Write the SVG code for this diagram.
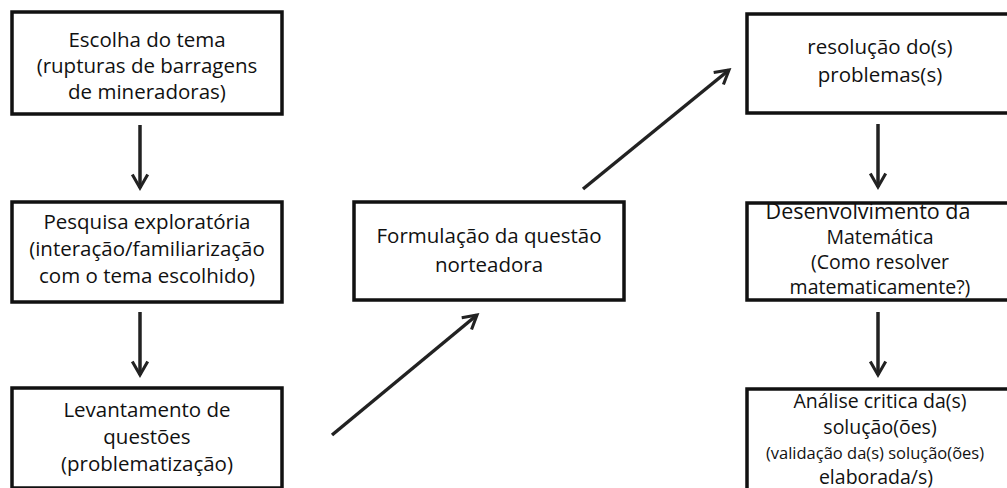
<svg xmlns="http://www.w3.org/2000/svg" width="1007" height="488" viewBox="0 0 1007 488">
<style>
.box{fill:#fff;stroke:#111;stroke-width:3.5}
.t{font-family:"Open Sans","Liberation Sans",sans-serif;font-size:20.5px;fill:#111;text-anchor:middle}
.r{font-size:19.5px}
.s{font-size:16.5px}
.c{stroke:#222;stroke-width:3.5;fill:none}
</style>
<defs>
<marker id="ah" viewBox="0 0 10 10" refX="8" refY="5" markerWidth="5.5" markerHeight="5.5" orient="auto" markerUnits="strokeWidth">
<path d="M1,1 L8,5 L1,9" fill="none" stroke="#222" stroke-width="1.6"/>
</marker>
</defs>
<g id="n1"><rect class="box" x="12" y="12" width="270" height="102"/>
<text class="t" x="147" y="47">Escolha do tema</text>
<text class="t" x="147" y="73">(rupturas de barragens</text>
<text class="t" x="147" y="99">de mineradoras)</text></g>
<g id="n2"><rect class="box" x="12" y="202" width="270" height="100"/>
<text class="t" x="147" y="229">Pesquisa exploratória</text>
<text class="t" x="147" y="256">(interação/familiarização</text>
<text class="t" x="147" y="283">com o tema escolhido)</text></g>
<g id="n3"><rect class="box" x="12" y="388" width="270" height="100"/>
<text class="t" x="147" y="417">Levantamento de</text>
<text class="t" x="147" y="444">questões</text>
<text class="t" x="147" y="471">(problematização)</text></g>
<g id="n4"><rect class="box" x="354" y="202" width="270" height="98"/>
<text class="t" x="489" y="243">Formulação da questão</text>
<text class="t" x="489" y="272">norteadora</text></g>
<g id="n5"><rect class="box" x="747" y="14" width="265" height="99"/>
<text class="t" x="880" y="54">resolução do(s)</text>
<text class="t" x="880" y="82">problemas(s)</text></g>
<g id="n6"><rect class="box" x="747" y="203" width="265" height="97"/>
<text class="t" x="868" y="219" style="font-size:21.5px">Desenvolvimento da</text>
<text class="t r" x="880" y="244">Matemática</text>
<text class="t r" x="880" y="269">(Como resolver</text>
<text class="t r" x="880" y="294">matematicamente?)</text></g>
<g id="n7"><rect class="box" x="747" y="389" width="265" height="102"/>
<text class="t r" x="880" y="408">Análise critica da(s)</text>
<text class="t r" x="880" y="434">solução(ões)</text>
<text class="t s" x="875" y="459">(validação  da(s) solução(ões)</text>
<text class="t r" x="876" y="484">elaborada/s)</text></g>
<g id="connectors">
<line class="c" x1="140" y1="125" x2="140" y2="188" marker-end="url(#ah)"/>
<line class="c" x1="140" y1="312" x2="140" y2="375" marker-end="url(#ah)"/>
<line class="c" x1="332" y1="435" x2="477" y2="315" marker-end="url(#ah)"/>
<line class="c" x1="583" y1="189" x2="729" y2="70" marker-end="url(#ah)"/>
<line class="c" x1="878" y1="124" x2="878" y2="187" marker-end="url(#ah)"/>
<line class="c" x1="878" y1="312" x2="878" y2="375" marker-end="url(#ah)"/>
</g>
</svg>
